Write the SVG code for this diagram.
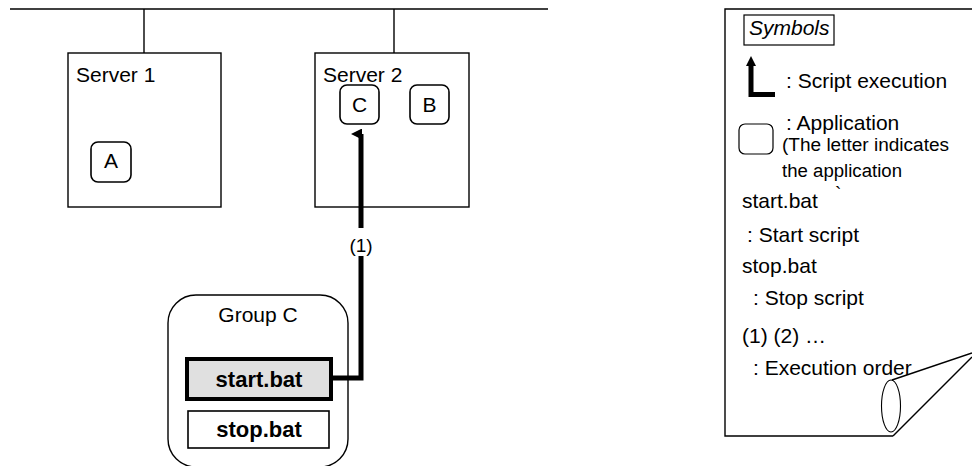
<svg xmlns="http://www.w3.org/2000/svg" width="972" height="466" viewBox="0 0 972 466">
<defs>
<style>
.ln{fill:none;stroke:#000;stroke-width:1.4}
.box{fill:#fff;stroke:#000;stroke-width:1.4}
.app{fill:#fff;stroke:#000;stroke-width:1.6}
.t{font-family:"Liberation Sans",Arial,sans-serif;font-size:21px;fill:#000}
.s{font-family:"Liberation Sans",Arial,sans-serif;font-size:19px;fill:#000}
.n{font-family:"Liberation Sans",Arial,sans-serif;font-size:18px;fill:#000}
.b{font-family:"Liberation Sans",Arial,sans-serif;font-size:22px;font-weight:bold;fill:#000}
.exec{fill:none;stroke:#000;stroke-width:5}
</style>
<marker id="ah" markerWidth="11" markerHeight="11" refX="5.5" refY="10" orient="auto" markerUnits="userSpaceOnUse" viewBox="0 0 11 11">
<path d="M0,11 L5.5,0 L11,11 Z" fill="#000"/>
</marker>
</defs>

<g id="network">
<line class="ln" x1="10" y1="9" x2="548" y2="9"/>
<line class="ln" x1="144" y1="9" x2="144" y2="53"/>
<line class="ln" x1="394" y1="9" x2="394" y2="53"/>
</g>

<g id="server1">
<rect class="box" x="68" y="53" width="153" height="154"/>
<text class="t" x="76" y="82">Server 1</text>
</g>
<g id="appA">
<rect class="app" x="91" y="142" width="40" height="40" rx="7"/>
<text class="t" x="111" y="168" text-anchor="middle">A</text>
</g>

<g id="server2">
<rect class="box" x="315" y="53" width="154" height="154"/>
<text class="t" x="323" y="82">Server 2</text>
</g>
<g id="appC">
<rect class="app" x="340" y="85" width="39" height="39" rx="7"/>
<text class="t" x="359.5" y="112" text-anchor="middle">C</text>
</g>
<g id="appB">
<rect class="app" x="410" y="85" width="39" height="39" rx="7"/>
<text class="t" x="429.5" y="112" text-anchor="middle">B</text>
</g>

<g id="groupC">
<rect class="box" x="168" y="295" width="180" height="172" rx="28"/>
<text class="t" x="258" y="322" text-anchor="middle">Group C</text>
</g>
<g id="startbat">
<rect x="187" y="359" width="144" height="40" fill="#e0e0e0" stroke="#000" stroke-width="4"/>
<text class="b" x="259" y="387" text-anchor="middle">start.bat</text>
</g>
<g id="stopbat">
<rect x="188" y="411" width="141" height="37" fill="#fff" stroke="#000" stroke-width="1.6"/>
<text class="b" x="259" y="437" text-anchor="middle">stop.bat</text>
</g>

<g id="connectors">
<polyline class="exec" points="331,378 361,378 361,134" marker-end="url(#ah)"/>
<rect x="348" y="228" width="26" height="28" fill="#fff"/>
<text class="s" x="361" y="252" text-anchor="middle">(1)</text>
</g>

<g id="legend">
<path class="ln" d="M972,9 H725 V436 H893"/>
<rect x="744" y="15" width="90" height="30" fill="#fff" stroke="#000" stroke-width="1.2"/>
<text class="t" x="749" y="35" font-style="italic">Symbols</text>
<polyline class="exec" points="751,65 751,94.5 775,94.5"/>
<path d="M746,66 L751,56 L756,66 Z" fill="#000"/>
<text class="t" x="786" y="88">: Script execution</text>
<rect x="739" y="124" width="34" height="30" rx="6" fill="#fff" stroke="#000" stroke-width="1.2"/>
<text class="t" x="786" y="130">: Application</text>
<text class="n" x="782" y="151" textLength="167" lengthAdjust="spacingAndGlyphs">(The letter indicates</text>
<text class="n" x="782" y="177" textLength="120" lengthAdjust="spacingAndGlyphs">the application</text>
<text class="t" x="742" y="208">start.bat</text>
<text class="s" x="835" y="200">`</text>
<text class="t" x="747" y="242">: Start script</text>
<text class="t" x="742" y="273">stop.bat</text>
<text class="t" x="753" y="305">: Stop script</text>
<text class="t" x="742" y="343">(1) (2) …</text>
<text class="t" x="753" y="375">: Execution order</text>
<line class="ln" x1="892" y1="380" x2="972" y2="353" stroke-width="1.1"/>
<line class="ln" x1="893" y1="436" x2="972" y2="357" stroke-width="1.1"/>
<ellipse cx="891" cy="406" rx="9.5" ry="26" fill="none" stroke="#000" stroke-width="1.1"/>
</g>
</svg>
